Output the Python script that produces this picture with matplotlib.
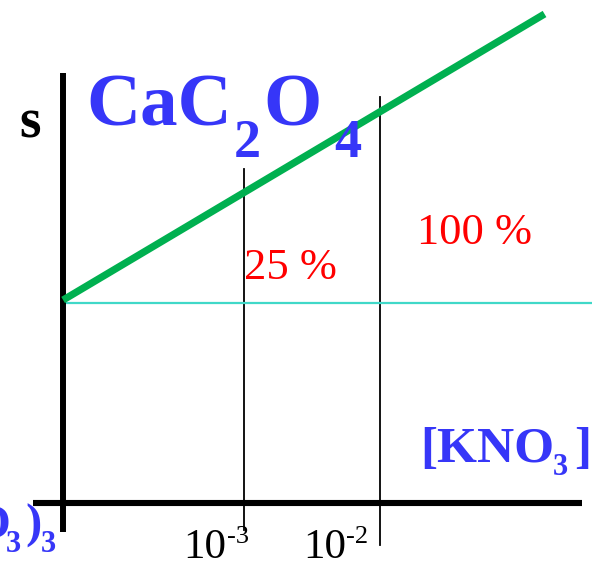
import matplotlib
matplotlib.use('Agg')
import matplotlib.pyplot as plt

# solubility s of CaC2O4 vs log[KNO3]
s_axis_top = 4.30          # top of the s axis
s_axis_bottom = -0.29
x_axis_left = -4.55        # log[KNO3] range of the horizontal axis
x_axis_right = -0.515
origin_logc = -4.33

green_logc = [-4.33, -0.79]
green_s = [2.03, 4.89]
s0 = 2.00                  # solubility without salt
decades = [-3, -2]
decade_exp = ['-3', '-2']
decade_top = [3.34, 4.06]
decade_bottom = [-0.27, -0.42]

W, H = 592, 563
serif = ['Liberation Serif', 'DejaVu Serif']
blue = '#3636F8'
red = '#FF0000'

fig = plt.figure(figsize=(W / 100, H / 100), dpi=100)
ax = fig.add_axes([0, 0, 1, 1])
ax.set_xlim(-4.794, -0.441)
ax.set_ylim(-0.60, 5.03)
ax.axis('off')

def put(txt, x, y, size, color='black', weight='normal'):
    # x, y in output pixels, y measured from the top
    fig.text(x / W, 1 - y / H, txt, fontsize=size, color=color, fontweight=weight,
             family=serif, ha='left', va='baseline', zorder=10)

# axes
ax.plot([x_axis_left, x_axis_right], [0, 0], color='black', lw=4.4, solid_capstyle='butt', zorder=4)
ax.plot([origin_logc, origin_logc], [s_axis_bottom, s_axis_top], color='black', lw=4.3,
        solid_capstyle='butt', zorder=4)

# decade lines
for d, top, bot in zip(decades, decade_top, decade_bottom):
    ax.plot([d, d], [bot, top], color='black', lw=1.3, zorder=2)

# s0 level and solubility line
ax.plot([origin_logc, -0.441], [s0, s0], color='#40D8C8', lw=1.6, zorder=3)
ax.plot(green_logc, green_s, color='#00B050', lw=5.2, solid_capstyle='butt', zorder=5)

# decade labels (pixel offsets from the decade line)
label_shift = [(-61, -17), (-77, -34)]
for d, e, (dx_base, dx_exp) in zip(decades, decade_exp, label_shift):
    px = ax.transData.transform((d, 0))[0]
    put('10', px + dx_base, 558, 31)
    put(e, px + dx_exp, 543, 19)

# texts
put('s', 19, 138, 40, weight='bold')
put('CaC', 86, 126, 54, blue, 'bold')
put('2', 234, 157, 39, blue, 'bold')
put('O', 263, 126, 54, blue, 'bold')
put('4', 334, 157, 39, blue, 'bold')

put('25 %', 244, 279, 32, red)
put('100 %', 417, 244, 32, red)

put('[KNO', 420, 462, 37, blue, 'bold')
put('3', 553, 475, 22, blue, 'bold')
put(']', 574, 462, 37, blue, 'bold')

put('O', -27, 538, 35, blue, 'bold')
put('3', 6, 552, 22, blue, 'bold')
put(')', 25, 538, 35, blue, 'bold')
put('3', 41, 552, 22, blue, 'bold')

fig.savefig('out.png', dpi=100)
